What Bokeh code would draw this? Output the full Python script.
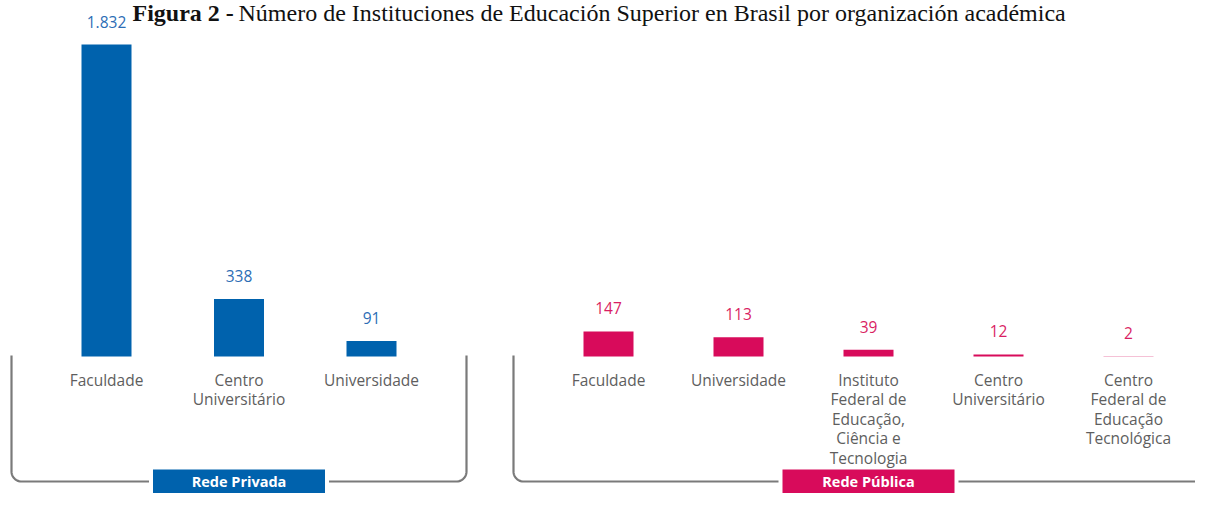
import numpy as np
from bokeh.plotting import figure
from bokeh.models import Range1d
from bokeh.embed import file_html
from bokeh.resources import INLINE
from bokeh.core.properties import value

# ---------------- data ----------------
title_bold = "Figura 2 -"
title_rest = "Número de Instituciones de Educación Superior en Brasil por organización académica"

group_names = ["Rede Privada", "Rede Pública"]

private_categories = ["Faculdade", "Centro\nUniversitário", "Universidade"]
private_values = [1832, 338, 91]

public_categories = ["Faculdade", "Universidade",
                     "Instituto\nFederal de\nEducação,\nCiência e\nTecnologia",
                     "Centro\nUniversitário",
                     "Centro\nFederal de\nEducação\nTecnológica"]
public_values = [147, 113, 39, 12, 2]

# ---------------- layout ----------------
W, H = 1195, 493
BASE = 356                   # screen y of the bar baseline
K = 312 / 1832               # px per unit


def Y(sy):
    """screen y (px from top of canvas) -> data y"""
    return (BASE - sy) / K


def fmt(v):
    return f"{v:,}".replace(",", ".")


p = figure(width=W, height=H, output_backend="svg", toolbar_location=None,
           x_range=Range1d(0, W), y_range=Range1d(Y(H), Y(0)),
           x_axis_location=None, y_axis_location=None, min_border=0,
           outline_line_color=None, background_fill_color="white",
           border_fill_color="white")
p.grid.visible = False

SANS = value("Open Sans")
GRAY_TXT = "#5e5e5e"
LINE_GRAY = "#7a7a7a"

groups = [
    dict(name=group_names[0], cats=private_categories, vals=private_values,
         x0=106, step=132.5, bar="#0062AD", lab="#2C6DB5", mid=1),
    dict(name=group_names[1], cats=public_categories, vals=public_values,
         x0=608, step=130, bar="#D80B5B", lab="#D91E63", mid=2),
]

LINE_Y = 481
BOX_TOP = 469
R = 10

for g in groups:
    n = len(g["vals"])
    xs = [g["x0"] + g["step"] * i for i in range(n)]
    # bars
    p.vbar(x=xs, top=g["vals"], bottom=0, width=50, color=g["bar"], line_color=None)
    # value labels
    p.text(x=xs, y=[v + 23 / K for v in g["vals"]], text=[fmt(v) for v in g["vals"]],
           text_align="center", text_baseline="middle", text_font=SANS,
           text_font_size="15.5px", text_color=g["lab"])
    # category labels (multi-line)
    lx, ly, lt = [], [], []
    for x, c in zip(xs, g["cats"]):
        for j, line in enumerate(c.split("\n")):
            lx.append(x)
            ly.append(Y(379 + 19.5 * j))
            lt.append(line)
    p.text(x=lx, y=ly, text=lt, text_align="center", text_baseline="middle",
           text_font=SANS, text_font_size="15.5px", text_color=GRAY_TXT)

    # bracket
    L = xs[0] - 95
    Rt = xs[-1] + 95
    cx = xs[g["mid"]]
    half = 86
    t1 = np.linspace(np.pi, np.pi / 2, 12)
    ax = list(L + R + R * np.cos(t1))
    ay = list(LINE_Y - R + R * np.sin(t1))
    seg1x = [L] + ax + [cx - half - 4]
    seg1y = [355] + ay + [LINE_Y]
    t2 = np.linspace(np.pi / 2, 0, 12)
    bx = list(Rt - R + R * np.cos(t2))
    by = list(LINE_Y - R + R * np.sin(t2))
    seg2x = [cx + half + 4] + bx + [Rt]
    seg2y = [LINE_Y] + by + [355]
    p.multi_line(xs=[seg1x, seg2x], ys=[[Y(v) for v in seg1y], [Y(v) for v in seg2y]],
                 line_color=LINE_GRAY, line_width=2.2)

    # group box + label
    p.quad(left=[cx - half], right=[cx + half], top=[Y(BOX_TOP)], bottom=[Y(H + 5)],
           color=g["bar"], line_color=None)
    p.text(x=[cx], y=[Y(480.5)], text=[g["name"]], text_align="center",
           text_baseline="middle", text_font=SANS, text_font_size="14.5px",
           text_font_style="bold", text_color="white")

# title (kept fully inside the canvas, to the right of the "1.832" label)
TITLE_FONT = value("Liberation Serif")
TITLE_Y = 12
p.text(x=[132], y=[Y(TITLE_Y)], text=[title_bold], text_align="left",
       text_baseline="alphabetic", text_font=TITLE_FONT,
       text_font_size="24px", text_font_style="bold", text_color="#111111")
p.text(x=[238], y=[Y(TITLE_Y)], text=[title_rest], text_align="left",
       text_baseline="alphabetic", text_font=TITLE_FONT,
       text_font_size="24px", text_color="#111111")

open("out.html", "w").write(file_html(p, INLINE))
